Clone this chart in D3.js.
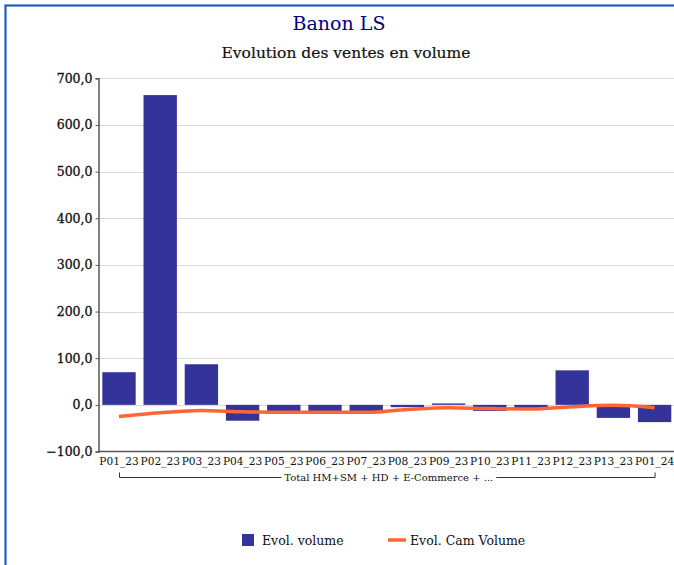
<!DOCTYPE html>
<html><head><meta charset="utf-8">
<script src="https://cdn.jsdelivr.net/npm/d3@7"></script>
<style>html,body{margin:0;padding:0;background:#fff;overflow:hidden}svg{display:block}text{font-family:"DejaVu Serif",serif}</style>
</head><body>
<script>
const categories = ["P01_23","P02_23","P03_23","P04_23","P05_23","P06_23","P07_23","P08_23","P09_23","P10_23","P11_23","P12_23","P13_23","P01_24"];
const evolVolume = [70, 664, 87, -34, -17, -15, -18, -5, 3, -13, -8, 74, -28, -37];
const evolCamVolume = [-25, -17, -12, -15, -16, -16, -16, -10, -6, -8, -9, -4, -1, -6];
const yTicks = [-100, 0, 100, 200, 300, 400, 500, 600, 700];
const title = "Banon LS";
const subtitle = "Evolution des ventes en volume";
const groupLabel = "Total HM+SM + HD + E-Commerce + ...";
const seriesNames = ["Evol. volume", "Evol. Cam Volume"];

const W = 674, H = 565;
const svg = d3.select("body").append("svg").attr("width", W).attr("height", H);

// frame
svg.append("rect").attr("x", 5.5).attr("y", 5.5).attr("width", 800).attr("height", 800)
  .attr("fill", "none").attr("stroke", "#1d5fb3").attr("stroke-width", 2.2);

svg.append("text").attr("x", 339).attr("y", 30).attr("text-anchor", "middle")
  .attr("font-size", 19).attr("fill", "#000080").text(title);
svg.append("text").attr("x", 346).attr("y", 58).attr("text-anchor", "middle")
  .attr("font-size", 15.5).attr("fill", "#111").attr("stroke", "#111").attr("stroke-width", 0.2).text(subtitle);

const x = d3.scaleBand().domain(categories).range([98.4, 98.4 + 14 * 41.2]).paddingInner(0.19).paddingOuter(0.095);
const y = d3.scaleLinear().domain([-100, 700]).range([451.5, 78.3]);

// gridlines
svg.append("g").selectAll("line").data(yTicks.filter(d => d !== -100)).join("line")
  .attr("x1", 98).attr("x2", W).attr("y1", d => Math.round(y(d)) + 0.5).attr("y2", d => Math.round(y(d)) + 0.5)
  .attr("stroke", "#d9d9d9").attr("stroke-width", 1);

// y axis
const yAxis = d3.axisLeft(y).tickValues(yTicks).tickSize(3).tickPadding(3)
  .tickFormat(d => d3.format(".1f")(d).replace(".", ","));
const gy = svg.append("g").attr("transform", "translate(98.5,0)").call(yAxis);
gy.select(".domain").attr("stroke", "#555").attr("stroke-width", 1.5);
gy.selectAll(".tick line").attr("stroke", "#555");
gy.selectAll(".tick text").attr("font-size", 12.5).attr("fill", "#111").attr("stroke", "#111").attr("stroke-width", 0.3).attr("font-family", "DejaVu Serif");

// bars
svg.append("g").selectAll("rect").data(categories).join("rect")
  .attr("x", d => x(d)).attr("width", x.bandwidth())
  .attr("y", (d, i) => y(Math.max(0, evolVolume[i])))
  .attr("height", (d, i) => Math.abs(y(evolVolume[i]) - y(0)))
  .attr("fill", "#333399");

// x axis
const xAxis = d3.axisBottom(x).tickSize(0).tickPadding(6);
const gx = svg.append("g").attr("transform", `translate(0,${y(-100)})`).call(xAxis);
gx.select(".domain").attr("stroke", "#555").attr("stroke-width", 1.5).attr("d", `M98,0H${W}`);
gx.selectAll(".tick text").attr("font-size", 10.6).attr("fill", "#111").attr("font-family", "DejaVu Serif");

// group bracket
const x0 = x(categories[0]) + x.bandwidth() / 2;
const x1 = x(categories[categories.length - 1]) + x.bandwidth() / 2;
const gl = svg.append("text").attr("x", (x0 + x1) / 2 + 2).attr("y", 481).attr("text-anchor", "middle")
  .attr("font-size", 10).attr("fill", "#111").text(groupLabel);
const bb = gl.node().getBBox();
svg.append("path").attr("fill", "none").attr("stroke", "#333").attr("stroke-width", 1)
  .attr("d", `M${x0 + 0.5},472.5V477.5H${bb.x - 3}M${bb.x + bb.width + 3},477.5H${x1 + 0.5}V472.5`);

// line
const line = d3.line().x((d, i) => x(categories[i]) + x.bandwidth() / 2).y(d => y(d)).curve(d3.curveMonotoneX);
svg.append("path").datum(evolCamVolume).attr("d", line).attr("fill", "none")
  .attr("stroke", "#ff6633").attr("stroke-width", 3.5).attr("stroke-linecap", "butt");

// legend
const lg = svg.append("g");
lg.append("rect").attr("x", 242).attr("y", 534).attr("width", 12).attr("height", 12).attr("fill", "#333399");
lg.append("text").attr("x", 262).attr("y", 545).attr("font-size", 12.5).attr("fill", "#111").text(seriesNames[0]);
lg.append("line").attr("x1", 388).attr("x2", 406).attr("y1", 540).attr("y2", 540).attr("stroke", "#ff6633").attr("stroke-width", 3.5);
lg.append("text").attr("x", 410).attr("y", 545).attr("font-size", 12.5).attr("fill", "#111").text(seriesNames[1]);
</script>
</body></html>
